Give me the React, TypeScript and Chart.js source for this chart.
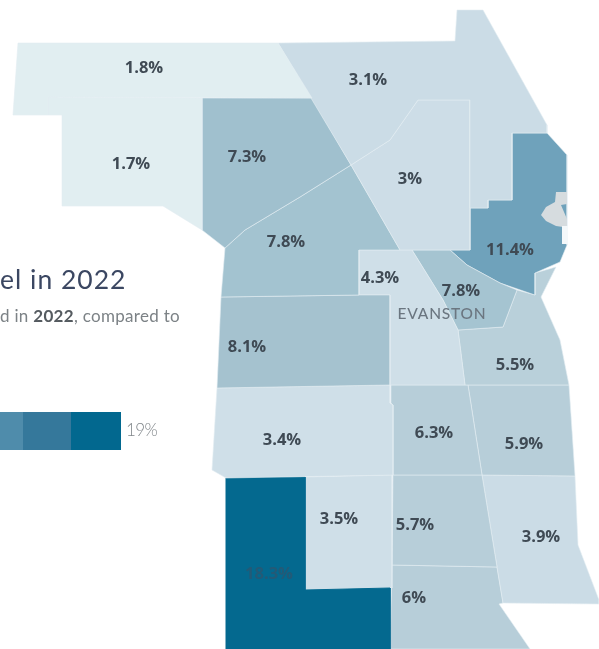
import React, { useEffect, useRef } from "react";
import { Chart, registerables } from "chart.js";

Chart.register(...registerables);

type Pt = [number, number];

// Map outlines, in map units
const outline18: Pt[] = [[18,43],[278,43],[312,98],[48,97],[48,115],[13,115]];
const outline17: Pt[] = [[48,97],[202,98],[202,230],[163,206],[62,206],[62,115],[48,115]];
const outline31: Pt[] = [[278,43],[455,41],[457,10],[483,10],[547,125],[547,133],[512,133],[512,200],[488,200],[488,208],[470,208],[470,100],[418,100],[390,140],[351,165]];
const outline30: Pt[] = [[418,100],[470,100],[470,250],[400,250],[351,165],[390,140]];
const outline73: Pt[] = [[202,98],[312,98],[351,165],[300,197],[245,230],[225,248],[202,230]];
const outline78w: Pt[] = [[225,248],[245,230],[300,197],[351,165],[400,250],[359,250],[359,295],[221,297]];
const outline81: Pt[] = [[221,297],[359,295],[390,295],[390,385],[217,388]];
const outline43: Pt[] = [[359,250],[412,250],[443,300],[458,330],[465,385],[390,385],[390,295],[359,295]];
const outline78e: Pt[] = [[412,250],[450,250],[467,265],[500,283],[517,290],[503,327],[458,330],[443,300]];
const outline114: Pt[] = [[512,133],[547,133],[567,155],[567,245],[560,262],[535,273],[535,295],[500,283],[467,265],[450,250],[470,250],[470,208],[488,208],[488,200],[512,200]];
const outline55: Pt[] = [[517,290],[535,295],[535,273],[556,267],[541,297],[560,340],[569,385],[465,385],[458,330],[503,327]];
const outline34: Pt[] = [[217,388],[390,385],[390,403],[393,405],[393,475],[226,478],[212,470]];
const outline183: Pt[] = [[226,478],[305,477],[305,590],[390,588],[390,649],[226,649]];
const outline35: Pt[] = [[305,477],[392,475],[392,588],[305,590]];
const outline63: Pt[] = [[391,385],[468,385],[482,475],[393,475],[393,405],[391,403]];
const outline59: Pt[] = [[468,385],[569,385],[575,476],[482,475]];
const outline57: Pt[] = [[393,475],[482,475],[497,567],[392,565]];
const outline39: Pt[] = [[482,475],[575,476],[578,545],[599,600],[599,604],[503,603],[497,567]];
const outline60: Pt[] = [[392,565],[497,567],[503,603],[499,604],[530,649],[390,649]];
const lakeOutline: Pt[] = [[556,192],[567,192],[567,204],[561,205],[567,219],[567,226],[563,227],[556,226],[546,221],[541,215],[546,207],[555,202]];
const shoreOutline: Pt[] = [[562,226],[568,226],[568,244],[562,244]];

const regionOutlines: Pt[][] = [outline18, outline17, outline31, outline30, outline73, outline78w, outline81, outline43, outline78e, outline114, outline55, outline34, outline183, outline35, outline63, outline59, outline57, outline39, outline60];
const regionLabels = ["1.8%","1.7%","3.1%","3%","7.3%","7.8%","8.1%","4.3%","7.8%","11.4%","5.5%","3.4%","18.3%","3.5%","6.3%","5.9%","5.7%","3.9%","6%"];
const regionColors = ["#e1eef1","#e1eef1","#cbdce6","#cddde7","#a0c0ce","#a3c3d0","#a5c2cf","#cfdfe8","#a5c4d1","#6fa2bb","#b9d0da","#cfdfe8","#04698f","#cfdfe8","#b7ced9","#b7ced9","#b7ced9","#cbdce6","#b7ced9"];
const labelAnchors: Pt[] = [[144,67],[131,163],[368,79],[410,178],[247,156],[286,241],[247,346],[380,277],[461,290],[510,249],[515,364],[282,439],[269,573],[339,518],[434,432],[524,443],[415,524],[541,536],[414,597]];

const legendEdges = [0, 23, 71, 121];
const legendColors = ["#4f8cab", "#35789b", "#02688f"];
const legendMaxLabel = "19%";
const cityLabel = "EVANSTON";
const titleTail = "el in 2022";

const FONT = '"Open Sans", sans-serif';

const closed = (o: Pt[]) => [...o, o[0]].map(([x, y]) => ({ x, y }));

const textPlugin = {
  id: "mapText",
  afterDatasetsDraw(chart: any) {
    const { ctx, scales } = chart;
    const px = (v: number) => scales.x.getPixelForValue(v);
    const py = (v: number) => scales.y.getPixelForValue(v);
    ctx.save();
    ctx.textBaseline = "middle";
    ctx.textAlign = "center";
    regionLabels.forEach((t, i) => {
      ctx.font = `700 16.5px ${FONT}`;
      ctx.fillStyle = t === "18.3%" ? "#235a77" : "#3f4a54";
      ctx.fillText(t, px(labelAnchors[i][0]), py(labelAnchors[i][1] + 1));
    });
    ctx.font = `500 15.5px Lato, sans-serif`;
    ctx.letterSpacing = "0.8px";
    ctx.fillStyle = "#6b7680";
    ctx.fillText(cityLabel, px(442), py(314));
    ctx.letterSpacing = "0px";

    ctx.textAlign = "left";
    ctx.textBaseline = "alphabetic";
    ctx.font = `400 26.5px Lato, sans-serif`;
    ctx.letterSpacing = "1px";
    ctx.fillStyle = "#3b4762";
    ctx.fillText(titleTail, px(0), py(289));

    const parts: [string, string][] = [["d in ", "400"], ["2022", "700"], [", compared to", "400"]];
    let x = px(0);
    ctx.letterSpacing = "0.3px";
    parts.forEach(([t, w]) => {
      ctx.font = `${w} 17px Lato, sans-serif`;
      ctx.fillStyle = w === "700" ? "#555b60" : "#7c8286";
      ctx.fillText(t, x, py(322));
      x += ctx.measureText(t).width;
    });

    ctx.font = `300 17px Lato, sans-serif`;
    ctx.letterSpacing = "-0.6px";
    ctx.fillStyle = "#80868a";
    ctx.fillText(legendMaxLabel, px(126), py(436));
    ctx.restore();
  },
};

export default function App() {
  const ref = useRef<HTMLCanvasElement>(null);
  useEffect(() => {
    const shape = (o: Pt[], color: string, border: string, w = 1) => ({
      data: closed(o),
      showLine: true,
      fill: "shape",
      backgroundColor: color,
      borderColor: border,
      borderWidth: w,
      pointRadius: 0,
      tension: 0,
    });
    const legend = legendColors.map((c, i) => {
      const a = legendEdges[i];
      const b = legendEdges[i + 1];
      const rect: Pt[] = [[a, 412], [b, 412], [b, 450], [a, 450]];
      return shape(rect, c, c, 0);
    });
    const chart = new Chart(ref.current!, {
      type: "scatter",
      data: {
        datasets: [
          shape(shoreOutline, "#f4f8fa", "#f4f8fa", 0),
          shape(lakeOutline, "#d6dcdf", "#d6dcdf", 0),
          ...legend,
          ...regionOutlines.map((o, i) =>
            shape(o, regionColors[i], i === 12 ? "#04698f" : "rgba(226,237,242,0.6)", 1)
          ),
        ] as any,
      },
      options: {
        responsive: false,
        animation: false,
        devicePixelRatio: 1,
        layout: { padding: 0 },
        plugins: { legend: { display: false }, tooltip: { enabled: false } },
        scales: {
          x: { type: "linear", min: 0, max: 599, display: false },
          y: { type: "linear", min: 0, max: 649, reverse: true, display: false },
        },
      },
      plugins: [textPlugin],
    } as any);
    return () => chart.destroy();
  }, []);
  return (
    <div style={{ position: "fixed", left: 0, top: 0, width: 599, height: 649, background: "#fff", overflow: "hidden" }}>
      <canvas ref={ref} width={599} height={649} style={{ display: "block", filter: "blur(0.5px)" }} />
    </div>
  );
}
